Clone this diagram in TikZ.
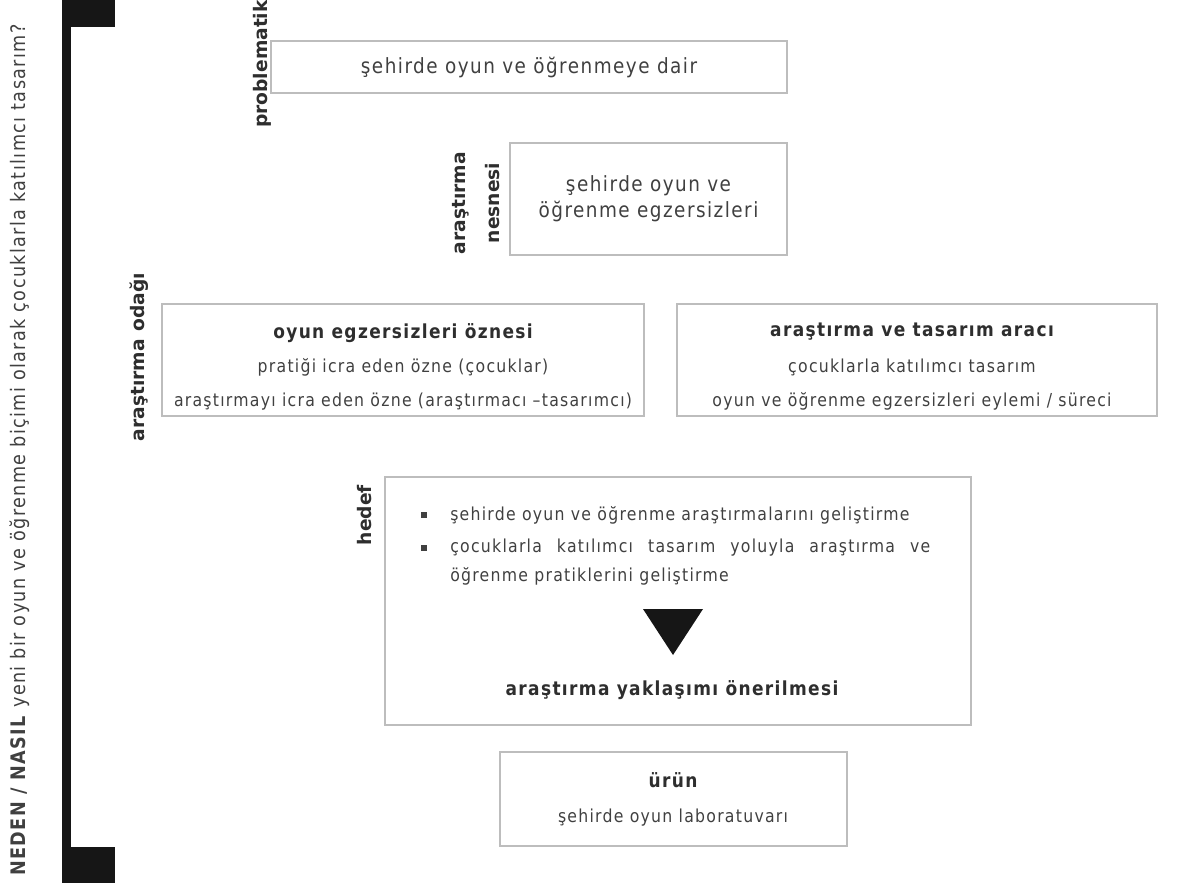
\documentclass[tikz,border=0pt]{standalone}
\usepackage{fontspec}
\setmainfont{DejaVu Sans}[LetterSpace=7, FakeStretch=0.88]
\newfontfamily\lblfont{DejaVu Sans}
\usepackage{tikz}
\definecolor{txtgray}{HTML}{404040}
\definecolor{lblgray}{HTML}{2E2E2E}
\definecolor{boxgray}{HTML}{BDBDBD}
\definecolor{barblack}{HTML}{161616}
\newcommand{\sz}[2]{\fontsize{#1}{#2}\selectfont}

\begin{document}
\begin{tikzpicture}[x=0.75pt,y=-0.75pt,
  box/.style 2 args={draw=boxgray, line width=0.8pt, minimum width=#1*0.75pt, minimum height=#2*0.75pt, inner sep=0pt},
  lbl/.style={rotate=90, font=\lblfont\bfseries\sz{14}{26}, text=lblgray, align=center, inner sep=0pt},
  big/.style={font=\sz{15.7}{19.5}, text=txtgray, align=center},
  ttl/.style={font=\bfseries\sz{14.5}{16}, text=lblgray, inner sep=0pt},
  sml/.style={font=\sz{13.4}{15}, text=txtgray, inner sep=0pt},
  bul/.style={fill=txtgray, minimum size=4.5pt, inner sep=0pt}]
\useasboundingbox (0,0) rectangle (1177,883);
\fill[barblack] (62,0) rectangle (71,883);
\fill[barblack] (62,0) rectangle (115,27);
\fill[barblack] (62,847) rectangle (115,883);
\node[rotate=90, font=\sz{15}{16}, text=txtgray, inner sep=0pt] (soru) at (20,450) {\textbf{NEDEN / NASIL} yeni bir oyun ve öğrenme biçimi olarak çocuklarla katılımcı tasarım?};
\node[box={516}{52}, big] (prob) at (529,67) {şehirde oyun ve öğrenmeye dair};
\node[lbl] (lprob) at (262,64) {problematik};
\node[box={277}{112}, big] (nesne) at (648.5,199) {şehirde oyun ve\\öğrenme egzersizleri};
\node[lbl] (lnes) at (476,203) {araştırma\\nesnesi};
\node[lbl] (lodak) at (139,357) {araştırma\hspace{6pt}odağı};
\node[box={482}{112}] (ozne) at (403,360) {};
\node[ttl] (oznet) at (403,333) {oyun egzersizleri öznesi};
\node[sml] (ozne1) at (403,367) {pratiği icra eden özne (çocuklar)};
\node[sml] (ozne2) at (403,402) {araştırmayı icra eden özne (araştırmacı –tasarımcı)};
\node[box={480}{112}] (arac) at (917,360) {};
\node[ttl] (aract) at (912,332) {araştırma ve tasarım aracı};
\node[sml] (arac1) at (912,367) {çocuklarla katılımcı tasarım};
\node[sml] (arac2) at (912,401) {oyun ve öğrenme egzersizleri eylemi / süreci};
\node[box={586}{248}] (hedef) at (678,601) {};
\node[lbl] (lhed) at (365,515) {hedef};
\node[bul] (b1) at (424,515) {};
\node[bul] (b2) at (424,548) {};
\node[sml, anchor=west] (h1) at (450,515) {şehirde oyun ve öğrenme araştırmalarını geliştirme};
\node[sml, anchor=west] (h2) at (450,548) {\makebox[360pt][s]{çocuklarla katılımcı tasarım yoluyla araştırma ve}};
\node[sml, anchor=west] (h3) at (450,576) {öğrenme pratiklerini geliştirme};
\fill[barblack] (643,609) -- (703,609) -- (673,655) -- cycle;
\node[ttl] (yak) at (672,690) {araştırma yaklaşımı önerilmesi};
\node[box={347}{94}] (urun) at (673.5,799) {};
\node[ttl] (urunt) at (673,780) {ürün};
\node[sml] (urun1) at (673,818) {şehirde oyun laboratuvarı};
\end{tikzpicture}
\end{document}
